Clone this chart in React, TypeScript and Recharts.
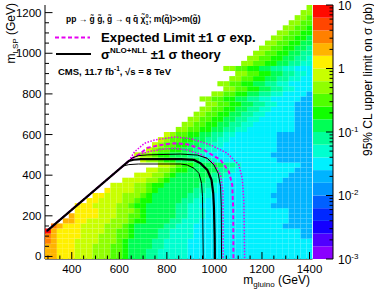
import React from 'react';
import { ComposedChart, Scatter, XAxis, YAxis, BarChart, Bar } from 'recharts';

// binning of the limit map, GeV
const gluinoEnd = 1400;
const binWidth = 25;

// log10 edges of the colour bands (pb), bottom to top
const levelEdges = [-3, -2.8, -2.6, -2.4, -2.2, -2, -1.8, -1.6, -1.4, -1.2, -1, -0.8, -0.6, -0.4, -0.2, 0, 0.2, 0.4, 0.6, 0.8, 1];
const levelColors = [
  '#8a00ff', '#5000ff', '#1400ff', '#0028ff', '#0060ff',
  '#0096ff', '#00b4ff', '#00f0ff', '#00ffd0', '#00ff9a',
  '#00ff55', '#10ff00', '#50ff00', '#90ff00', '#c8ff00',
  '#fff000', '#ffb400', '#ff8000', '#ff4600', '#ff0a00',
];

// one row per m_LSP bin (0, 25, 50 ...), band index (base 20) per gluino bin, ending at 1400
const limitRows = [
  'ggfffeeedddccbaaa9988888777777777777777777777',
  'ggfffeeedddccbaaa9988888777777777777777777777',
  'ggfffeeedddccbaaaa998888777777777777777777777',
  'hgfffeeeedddcbaaaa998888777777777777777777777',
  'hgffffeeedddccbaaaa99888877777777777777777766',
  'jgffffeeeeddccbaaaa99888877777777777777777766',
  'hgfffeeeedddcbaaaaa9988877777777777777766666',
  'ggffeeeedddcbbaaaa998887777777777777776666',
  'gffffeeeddccbaaaaa99888777777777777776666',
  'ffffeeedddcbaaaaa99888777777777777776666',
  'fffeeeeddcbbaaaaa99887777777777776666666',
  'ffeeeeddcbbaaaaa9988777777777777666666',
  'ffeeedddcbaaaaaa998877777777776666666',
  'feeeeddcbaaaaaa99887777777777666666',
  'eeeeddcbbaaaaaa9987777777777666666',
  'eeeeddcbaaaaaa998777777777766666',
  'eeeddcbaaaaaa99877777777776666',
  'eeddcbbaaaaa9987777777777666',
  'eedcbbaaaaa998777777777766',
  'eddcbbaaaa9987777777777666666',
  'eddcbbaaa998777777777776666666',
  'edccbbaa99887777777777666666',
  'edccbbaa9988777777777666666',
  'edccbbaa998877777777666666',
  'edccbbaa99887777777666666',
  'ddccbbaa998877777777666',
  'ddccbbaa99887777777666',
  'ddccbbaa9988777777666',
  'ddccbbaa998877777666',
  'ddccbbaa99887777666',
  'ddccbbaa9988777666',
  'ddccbbaa99887777766',
  'ddccbbaa998877776',
  'ddccbbaa9988777',
  'ddccbbaa99887777',
  'ddccbbaa998877',
  'ddccbbaa99887',
  'ddccbbaa9988777',
  'ddccbbaa9988',
  'ddccbbaa998',
  'ddccbbaa99',
  'ddccbbaa9',
  'ddccbbaa',
  'ddccbba',
  'ddccbb',
  'ddccb',
  'ddcc',
  'ddc',
  'dd',
  'd',
];

// exclusion contours, (m_gluino, m_LSP) in GeV
const observed = [
  { x: 295, y: 125 }, { x: 640, y: 470 }, { x: 660, y: 476 }, { x: 690, y: 479 }, { x: 860, y: 479 },
  { x: 914, y: 475 }, { x: 942, y: 458 }, { x: 970, y: 426 }, { x: 988, y: 376 }, { x: 995, y: 311 },
  { x: 998, y: 245 }, { x: 1001, y: 100 }, { x: 1002, y: -12.5 },
];
const observedUp = [
  { x: 295, y: 125 }, { x: 655, y: 485 }, { x: 680, y: 496 }, { x: 720, y: 500 }, { x: 858, y: 504 },
  { x: 928, y: 499 }, { x: 970, y: 483 }, { x: 998, y: 450 }, { x: 1016, y: 409 }, { x: 1026, y: 343 },
  { x: 1029, y: 245 }, { x: 1030, y: -12.5 },
];
const observedDown = [
  { x: 295, y: 125 }, { x: 615, y: 445 }, { x: 640, y: 452 }, { x: 680, y: 455 }, { x: 858, y: 455 },
  { x: 886, y: 450 }, { x: 914, y: 434 }, { x: 935, y: 409 }, { x: 946, y: 360 }, { x: 950, y: 294 },
  { x: 953, y: -12.5 },
];
const expected = [
  { x: 295, y: 125 }, { x: 650, y: 480 }, { x: 678, y: 499 }, { x: 720, y: 535 }, { x: 776, y: 549 },
  { x: 832, y: 557 }, { x: 886, y: 552 }, { x: 956, y: 524 }, { x: 1026, y: 475 }, { x: 1061, y: 417 },
  { x: 1075, y: 352 }, { x: 1079, y: 237 }, { x: 1080, y: -12.5 },
];
const expectedUp = [
  { x: 295, y: 125 }, { x: 640, y: 470 }, { x: 664, y: 515 }, { x: 706, y: 557 }, { x: 748, y: 573 },
  { x: 832, y: 588 }, { x: 900, y: 580 }, { x: 984, y: 549 }, { x: 1054, y: 508 }, { x: 1103, y: 450 },
  { x: 1117, y: 385 }, { x: 1124, y: 270 }, { x: 1127, y: -12.5 },
];
const expectedDown = [
  { x: 295, y: 125 }, { x: 655, y: 485 }, { x: 690, y: 505 }, { x: 735, y: 519 }, { x: 790, y: 529 },
  { x: 832, y: 532 }, { x: 886, y: 524 }, { x: 942, y: 503 }, { x: 998, y: 458 }, { x: 1026, y: 401 },
  { x: 1036, y: 319 }, { x: 1037, y: -12.5 },
];

const xTicks = [300, 350, 400, 450, 500, 550, 600, 650, 700, 750, 800, 850, 900, 950, 1000, 1050, 1100, 1150, 1200, 1250, 1300, 1350, 1400];
const yTicks = [0, 50, 100, 150, 200, 250, 300, 350, 400, 450, 500, 550, 600, 650, 700, 750, 800, 850, 900, 950, 1000, 1050, 1100, 1150, 1200];

const xDomain: [number, number] = [287.5, 1412.5];
const yDomain: [number, number] = [-12.5, 1237.5];
const plotLeft = 45;
const plotRight = 312.5;
const plotTop = 5;
const plotBottom = 259;
const cellW = (binWidth * (plotRight - plotLeft)) / (xDomain[1] - xDomain[0]);
const cellH = (binWidth * (plotBottom - plotTop)) / (yDomain[1] - yDomain[0]);

const cells = limitRows.flatMap((row, r) =>
  row.split('').map((ch, i) => ({
    x: gluinoEnd - (row.length - 1 - i) * binWidth,
    y: r * binWidth,
    band: parseInt(ch, 20),
  }))
);

const paletteRow: Record<string, number | string> = { name: 'z' };
levelColors.forEach((_, i) => {
  paletteRow[`s${i}`] = levelEdges[i + 1] - levelEdges[i];
});
const paletteTicks: number[] = [];
for (let d = 0; d < 4; d++) {
  for (let k = 1; k < 10; k++) paletteTicks.push(d + Math.log10(k));
}
paletteTicks.push(4);

const font = '"Liberation Sans", Arial, Helvetica, sans-serif';

const HeatCell = (props: any) => {
  const { cx, cy, payload } = props;
  return <rect x={cx - cellW / 2} y={cy - cellH / 2} width={cellW} height={cellH} fill={levelColors[payload.band]} />;
};
const NoDot = () => <g />;

const BottomTick = (props: any) => {
  const { x, y, payload } = props;
  const major = payload.value % 200 === 0;
  return (
    <g>
      <line x1={x} x2={x} y1={y} y2={y - (major ? 7 : 3.5)} stroke="#000" />
      {major && (
        <text x={x} y={y + 13.5} textAnchor="middle" fontSize={11.5} fontFamily={font} fill="#000">
          {payload.value}
        </text>
      )}
    </g>
  );
};
const TopTick = (props: any) => {
  const { x, y, payload } = props;
  const major = payload.value % 200 === 0;
  return <line x1={x} x2={x} y1={y} y2={y + (major ? 7 : 3.5)} stroke="#000" />;
};
const LeftTick = (props: any) => {
  const { x, y, payload } = props;
  const major = payload.value % 200 === 0;
  return (
    <g>
      <line x1={x} x2={x + (major ? 7.5 : 4)} y1={y} y2={y} stroke="#000" />
      {major && (
        <text x={x - 3.5} y={y + 4} textAnchor="end" fontSize={11.5} fontFamily={font} fill="#000">
          {payload.value}
        </text>
      )}
    </g>
  );
};
const RightTick = (props: any) => {
  const { x, y, payload } = props;
  const major = payload.value % 200 === 0;
  return <line x1={x - (major ? 7.5 : 4)} x2={x} y1={y} y2={y} stroke="#000" />;
};
const PaletteTick = (props: any) => {
  const { x, y, payload } = props;
  const v = payload.value;
  const major = Math.abs(v - Math.round(v)) < 1e-6;
  const exp = Math.round(v) - 3;
  return (
    <g>
      <line x1={x - (major ? 7 : 3.5)} x2={x} y1={y} y2={y} stroke="#000" />
      {major && (
        <text x={x + 5} y={y + 4.5} fontSize={12} fontFamily={font} fill="#000">
          {exp === 0 ? '1' : '10'}
          {exp < 0 && (
            <tspan dy={-5} fontSize={8}>
              {exp}
            </tspan>
          )}
        </text>
      )}
    </g>
  );
};

const contourLine = (stroke: string, width: number, dash?: string) => ({
  stroke,
  strokeWidth: width,
  strokeDasharray: dash,
  fill: 'none',
});

export default function App() {
  return (
    <div style={{ position: 'absolute', left: 0, top: 0, width: 374, height: 289, background: '#fff', fontFamily: font }}>
      <div style={{ position: 'absolute', left: 0, top: 0 }}>
        <ComposedChart width={374} height={289} margin={{ top: 5, right: 61.5, bottom: 0, left: 0 }}>
          <XAxis xAxisId="b" type="number" dataKey="x" domain={xDomain} ticks={xTicks} interval={0} allowDataOverflow
            height={30} tickSize={0} tickMargin={0} tickLine={false} axisLine={{ stroke: '#000' }} tick={<BottomTick />} />
          <XAxis xAxisId="t" orientation="top" type="number" dataKey="x" domain={xDomain} ticks={xTicks} interval={0} allowDataOverflow
            height={0} tickSize={0} tickMargin={0} tickLine={false} axisLine={{ stroke: '#000' }} tick={<TopTick />} />
          <YAxis yAxisId="l" type="number" dataKey="y" domain={yDomain} ticks={yTicks} interval={0} allowDataOverflow
            width={45} tickSize={0} tickMargin={0} tickLine={false} axisLine={{ stroke: '#000' }} tick={<LeftTick />} />
          <YAxis yAxisId="r" orientation="right" type="number" dataKey="y" domain={yDomain} ticks={yTicks} interval={0} allowDataOverflow
            width={0} tickSize={0} tickMargin={0} tickLine={false} axisLine={{ stroke: '#000' }} tick={<RightTick />} />
          <Scatter xAxisId="b" yAxisId="l" data={cells} shape={<HeatCell />} isAnimationActive={false} />
          <Scatter xAxisId="t" yAxisId="r" data={cells.slice(0, 1)} shape={<NoDot />} isAnimationActive={false} />
          <Scatter xAxisId="b" yAxisId="l" data={expectedUp} shape={<NoDot />} line={contourLine('#e600f0', 1.5, '1.5 1.5')} isAnimationActive={false} />
          <Scatter xAxisId="b" yAxisId="l" data={expectedDown} shape={<NoDot />} line={contourLine('#e600f0', 1.5, '1.5 1.5')} isAnimationActive={false} />
          <Scatter xAxisId="b" yAxisId="l" data={expected} shape={<NoDot />} line={contourLine('#e600f0', 2, '4 2.5')} isAnimationActive={false} />
          <Scatter xAxisId="b" yAxisId="l" data={observedUp} shape={<NoDot />} line={contourLine('#000', 1)} isAnimationActive={false} />
          <Scatter xAxisId="b" yAxisId="l" data={observedDown} shape={<NoDot />} line={contourLine('#000', 1)} isAnimationActive={false} />
          <Scatter xAxisId="b" yAxisId="l" data={observed} shape={<NoDot />} line={contourLine('#000', 2.2)} isAnimationActive={false} />
        </ComposedChart>
      </div>
      <div style={{ position: 'absolute', left: 313, top: 0 }}>
        <BarChart width={61} height={289} data={[paletteRow]} margin={{ top: 5, right: 0, bottom: 30, left: 0 }} barCategoryGap={0}>
          <XAxis dataKey="name" hide />
          <YAxis orientation="right" type="number" domain={[0, 4]} ticks={paletteTicks} interval={0} allowDataOverflow
            width={41} tickSize={0} tickMargin={0} tickLine={false} axisLine={{ stroke: '#000' }} tick={<PaletteTick />} />
          {levelColors.map((c, i) => (
            <Bar key={i} dataKey={`s${i}`} stackId="p" fill={c} isAnimationActive={false} />
          ))}
        </BarChart>
      </div>
      <svg width={374} height={289} style={{ position: 'absolute', left: 0, top: 0, pointerEvents: 'none' }} fontFamily={font}>
        <text x={66} y={21.5} fontSize={8.5} fontWeight="bold" fill="#000">
          {'pp \u2192 g\u0303 g\u0303, g\u0303 \u2192 q q\u0304 \u03c7\u0303'}
          <tspan dy={-3.5} fontSize={5.5}>0</tspan>
          <tspan dx={-3} dy={6.5} fontSize={5.5}>1</tspan>
          <tspan dy={-3}>{'; m(q\u0303)>>m(g\u0303)'}</tspan>
        </text>
        <line x1={55} x2={90} y1={37.5} y2={37.5} stroke="#e600f0" strokeWidth={2} strokeDasharray="4 2.5" />
        <text x={101} y={42} fontSize={13.2} fontWeight="bold" fill="#000">
          {'Expected Limit \u00b11 \u03c3 exp.'}
        </text>
        <line x1={56} x2={91} y1={54} y2={54} stroke="#000" strokeWidth={2.2} />
        <text x={101} y={58.5} fontSize={13} fontWeight="bold" fill="#000">
          {'\u03c3'}
          <tspan dy={-5.5} fontSize={8}>NLO+NLL</tspan>
          <tspan dy={5.5}>{' \u00b11 \u03c3 theory'}</tspan>
        </text>
        <text x={58} y={75} fontSize={9.5} fontWeight="bold" fill="#000">
          {'CMS, 11.7 fb'}
          <tspan dy={-4} fontSize={6.5}>-1</tspan>
          <tspan dy={4}>{', \u221as = 8 TeV'}</tspan>
        </text>
        <text transform="rotate(-90)" x={-3} y={15} textAnchor="end" fontSize={12} fill="#000">
          m<tspan dy={3} fontSize={8}>LSP</tspan>
          <tspan dy={-3}> (GeV)</tspan>
        </text>
        <text x={310} y={284} textAnchor="end" fontSize={12} fill="#000">
          m<tspan dy={2.5} fontSize={8}>gluino</tspan>
          <tspan dy={-2.5}> (GeV)</tspan>
        </text>
        <text transform="rotate(-90)" x={-3} y={372} textAnchor="end" fontSize={12} fill="#000">
          {'95% CL upper limit on \u03c3 (pb)'}
        </text>
      </svg>
    </div>
  );
}
